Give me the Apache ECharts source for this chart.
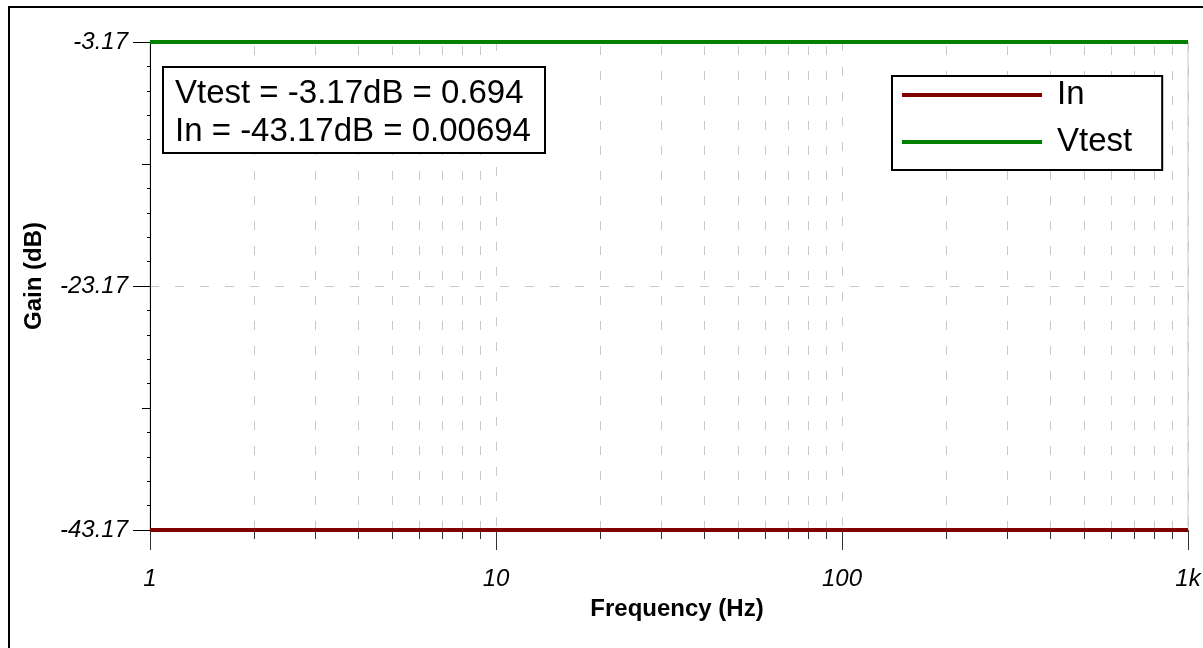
<!DOCTYPE html>
<html>
<head>
<meta charset="utf-8">
<title>Gain (dB)</title>
<script src="https://cdn.jsdelivr.net/npm/echarts@6/dist/echarts.min.js"></script>
<style>
  html, body { margin: 0; padding: 0; background: #fff; }
  #chart { width: 1203px; height: 648px; }
</style>
</head>
<body>
<div id="chart"></div>
<script>
// data
var freqHz = [1, 10, 100, 1000];
var inDb = [-43.17, -43.17, -43.17, -43.17];
var vtestDb = [-3.17, -3.17, -3.17, -3.17];
var seriesNames = ['In', 'Vtest'];
// minor decade grid lines (2..9 of each decade)
var minorFreqs = [2, 3, 4, 5, 6, 7, 8, 9, 20, 30, 40, 50, 60, 70, 80, 90, 200, 300, 400, 500, 600, 700, 800, 900];
var xTickLabels = { 1: '1', 10: '10', 100: '100', 1000: '1k' };
var yMin = -43.17;
var yMax = -3.17;
var noteLines = ['Vtest = -3.17dB = 0.694', 'In = -43.17dB = 0.00694'];

var FONT = '"Liberation Sans", Arial, Helvetica, sans-serif';
var GRID_GREY = '#c8c8c8';

function pairs(xs, ys) {
  return xs.map(function (x, i) { return [x, ys[i]]; });
}

// minor vertical grid + short ticks under the axis
function renderMinor(params, api) {
  var f = api.value(0);
  var b = api.coord([f, yMin]);
  var t = api.coord([f, yMax]);
  var x = Math.round(b[0]) + 0.5;
  return {
    type: 'group',
    children: [
      { type: 'line', shape: { x1: x, y1: b[1], x2: x, y2: t[1] },
        style: { stroke: GRID_GREY, lineWidth: 1, lineDash: [9, 16] } },
      { type: 'line', shape: { x1: x, y1: b[1], x2: x, y2: b[1] + 9 },
        style: { stroke: '#333', lineWidth: 1 } }
    ]
  };
}

var chart = echarts.init(document.getElementById('chart'));

chart.setOption({
  animation: false,
  backgroundColor: '#fff',
  textStyle: { fontFamily: FONT },
  graphic: [{
    type: 'rect',
    shape: { x: 9, y: 7, width: 1400, height: 900 },
    style: { fill: 'none', stroke: '#000', lineWidth: 2 },
    silent: true
  }],
  title: {
    text: noteLines.join('\n'),
    left: 163,
    top: 67,
    padding: [8, 14, 2, 12],
    borderColor: '#000',
    borderWidth: 2,
    backgroundColor: '#fff',
    textStyle: { fontFamily: FONT, fontSize: 33, fontWeight: 'normal', color: '#000', lineHeight: 38 },
    z: 10
  },
  legend: {
    data: seriesNames,
    orient: 'vertical',
    left: 892,
    top: 76,
    padding: [1, 30, 10, 10],
    itemGap: 11,
    itemWidth: 140,
    itemHeight: 4,
    icon: 'rect',
    borderColor: '#000',
    borderWidth: 2,
    backgroundColor: '#fff',
    textStyle: { fontFamily: FONT, fontSize: 33, color: '#000', lineHeight: 36, padding: [0, 0, 0, 10] },
    z: 10
  },
  grid: {
    left: 150,
    top: 42,
    right: 15,
    bottom: 118,
    show: true,
    borderColor: GRID_GREY,
    borderWidth: 1,
    containLabel: false,
    outerBoundsMode: 'none'
  },
  xAxis: {
    type: 'log',
    logBase: 10,
    min: 1,
    max: 1000,
    name: 'Frequency (Hz)',
    nameLocation: 'middle',
    nameGap: 67,
    nameTextStyle: { fontFamily: FONT, fontSize: 24, fontWeight: 'bold', color: '#000', verticalAlign: 'top', padding: [0, 0, 0, 16] },
    axisLine: { show: true, lineStyle: { color: '#000', width: 1 } },
    axisTick: { show: true, length: 20, lineStyle: { color: '#333' } },
    axisLabel: {
      margin: 37,
      fontFamily: FONT,
      fontSize: 24,
      fontStyle: 'italic',
      color: '#000',
      formatter: function (v) { return xTickLabels[Math.round(v)] || ''; }
    },
    splitLine: { show: true, lineStyle: { color: GRID_GREY, width: 1, type: [9, 16] } }
  },
  yAxis: [{
    type: 'value',
    position: 'left',
    min: yMin,
    max: yMax,
    interval: 20,
    name: 'Gain (dB)',
    nameLocation: 'middle',
    nameGap: 104,
    nameRotate: 90,
    nameTextStyle: { fontFamily: FONT, fontSize: 24, fontWeight: 'bold', color: '#000', padding: [0, 0, 0, 20] },
    axisLine: { show: true, lineStyle: { color: '#000', width: 1 } },
    axisTick: { show: true, length: 17, lineStyle: { color: '#000' } },
    minorTick: { show: true, splitNumber: 10, length: 3, lineStyle: { color: '#000' } },
    axisLabel: {
      margin: 22,
      fontFamily: FONT,
      fontSize: 24,
      fontStyle: 'italic',
      color: '#000',
      formatter: function (v) { return v.toFixed(2); }
    },
    splitLine: { show: true, lineStyle: { color: GRID_GREY, width: 1, type: [9, 16] } }
  }, {
    // medium ticks every 10 dB
    type: 'value',
    position: 'left',
    min: yMin,
    max: yMax,
    interval: 10,
    axisLine: { show: false },
    axisTick: { show: true, length: 8, lineStyle: { color: '#000' } },
    axisLabel: { show: false },
    splitLine: { show: false }
  }],
  series: [{
    type: 'custom',
    name: 'minor',
    renderItem: renderMinor,
    data: minorFreqs.map(function (f) { return [f, yMin]; }),
    encode: { x: 0, y: 1 },
    clip: false,
    silent: true,
    z: 1
  }, {
    type: 'line',
    name: seriesNames[0],
    data: pairs(freqHz, inDb),
    color: '#800000',
    showSymbol: false,
    symbol: 'none',
    lineStyle: { color: '#800000', width: 4 },
    z: 3
  }, {
    type: 'line',
    name: seriesNames[1],
    data: pairs(freqHz, vtestDb),
    color: '#008000',
    showSymbol: false,
    symbol: 'none',
    lineStyle: { color: '#008000', width: 4 },
    z: 3
  }]
});
</script>
</body>
</html>
